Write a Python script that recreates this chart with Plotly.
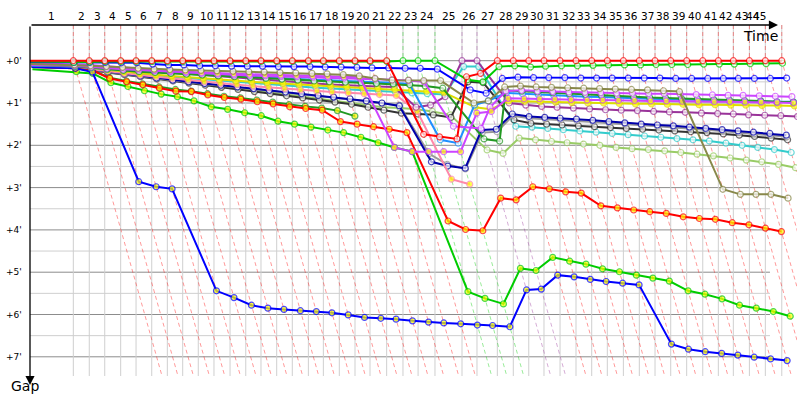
import plotly.graph_objects as go

# Leader lap completion times (minutes from start), index 0 = start
LAP_END = [0.0, 3.64, 4.98, 6.28, 7.62, 8.91, 10.23, 11.54, 12.83, 14.14, 15.46, 16.81, 18.13,
           19.41, 20.73, 22.04, 23.39, 24.65, 25.99, 27.31, 28.57, 29.97, 31.34, 32.61, 34.03,
           36.30, 37.56, 39.27, 40.61, 41.91, 43.19, 44.54, 45.88, 47.20, 48.51, 49.86, 51.20,
           52.52, 53.84, 55.18, 56.53, 57.84, 59.10, 60.45, 61.79, 63.17]
LAP_LABELS = [str(i) for i in range(1, 46)]
GAP_TICKS = [0, 1, 2, 3, 4, 5, 6, 7]
GAP_TICK_TEXT = ["+0'", "+1'", "+2'", "+3'", "+4'", "+5'", "+6'", "+7'"]

# gaps to leader (minutes), index 0 = start, then lap 1..N
RED_W = [0.0, 0.0, 0.0, 0.0, 0.0, 0.0, 0.0, 0.0, 0.0, 0.0, 0.0, 0.0, 0.0, 0.0, 0.0, 0.0, 0.0, 0.0,
         0.0, 0.0, 0.0, 0.0, 1.74, 1.8, 1.85, 0.38, 0.3, 0.0, 0.0, 0.0, 0.0, 0.0, 0.0, 0.0, 0.0,
         0.0, 0.0, 0.0, 0.0, 0.0, 0.0, 0.0, 0.0, 0.0, 0.0, 0.0]
GREEN_W = [0.02, 0.04, 0.03, 0.02, 0.02, 0.02, 0.02, 0.02, 0.02, 0.02, 0.02, 0.02, 0.02, 0.02,
           0.02, 0.02, 0.02, 0.02, 0.02, 0.02, 0.02, 0.02, 0.0, 0.0, 0.0, 0.45, 0.5, 0.14, 0.12,
           0.15, 0.13, 0.12, 0.12, 0.11, 0.1, 0.1, 0.1, 0.09, 0.09, 0.09, 0.08, 0.08, 0.08, 0.07,
           0.07, 0.06]
BLUE_W = [0.03, 0.04, 0.04, 0.04, 0.05, 0.05, 0.08, 0.1, 0.1, 0.12, 0.12, 0.13, 0.13, 0.13, 0.14,
          0.14, 0.14, 0.15, 0.15, 0.16, 0.17, 0.17, 0.18, 0.18, 0.2, 0.69, 0.77, 0.42, 0.39, 0.4,
          0.4, 0.4, 0.41, 0.41, 0.41, 0.41, 0.41, 0.41, 0.42, 0.42, 0.42, 0.42, 0.42, 0.42, 0.42,
          0.41]
OLIVE_W = [0.08, 0.1, 0.12, 0.14, 0.16, 0.18, 0.2, 0.21, 0.22, 0.23, 0.24, 0.25, 0.26, 0.27, 0.28,
           0.29, 0.3, 0.31, 0.33, 0.36, 0.42, 0.46, 0.46, 0.47, 0.47, 1.0, 0.95, 0.62, 0.6, 0.62,
           0.63, 0.64, 0.65, 0.66, 0.67, 0.68, 0.69, 0.71, 0.73, 3.04, 3.16, 3.16, 3.16, 3.25]
VIOLET_Y = [0.06, 0.08, 0.1, 0.13, 0.16, 0.19, 0.22, 0.24, 0.26, 0.28, 0.3, 0.31, 0.32, 0.33,
            0.34, 0.35, 0.36, 0.37, 0.38, 0.39, 2.05, 2.15, 2.15, 2.15, 2.15, 1.24, 1.2, 0.89,
            0.9, 0.9, 0.91, 0.92, 0.93, 0.93, 0.94, 0.94, 0.95, 0.95, 0.96, 0.96, 0.97, 0.97,
            0.98, 0.98, 0.99, 1.0]
VIOLET_W = [0.1, 0.12, 0.15, 0.18, 0.2, 0.22, 0.24, 0.26, 0.28, 0.3, 0.32, 0.34, 0.35, 0.36, 0.37,
            0.38, 0.39, 0.4, 0.41, 0.42, 0.44, 0.45, 0.47, 0.5, 1.55, 1.6, 1.1, 0.72, 0.7, 0.72,
            0.73, 0.74, 0.75, 0.76, 0.77, 0.77, 0.78, 0.78, 0.79, 0.8, 0.81, 0.82, 0.82, 0.83,
            0.84, 0.85]
DKGREEN_W = [0.1, 0.13, 0.16, 0.2, 0.23, 0.26, 0.28, 0.3, 0.32, 0.34, 0.36, 0.38, 0.4, 0.42, 0.44,
             0.46, 0.48, 0.5, 0.51, 0.52, 0.54, 0.55, 0.57, 0.6, 0.65, 1.85, 1.9, 0.7, 0.72, 0.74,
             0.76, 0.78, 0.8, 0.82, 0.84, 0.86, 0.87, 0.88, 0.89, 0.9, 0.92, 0.93, 0.94, 0.95,
             0.97, 0.98]
DODGER_W = [0.12, 0.14, 0.17, 0.2, 0.22, 0.24, 0.26, 0.28, 0.3, 0.32, 0.34, 0.36, 0.38, 0.4, 0.42,
            0.43, 0.45, 0.46, 0.48, 0.5, 0.51, 0.52, 0.55, 1.87, 1.95, 1.05, 0.95, 0.76, 0.78,
            0.8, 0.82, 0.83, 0.85, 0.86, 0.88, 0.89, 0.9, 0.91, 0.92, 0.93, 0.94, 0.95, 0.96,
            0.96, 0.97, 0.97]
YELLOW_Y = [0.1, 0.14, 0.18, 0.22, 0.26, 0.3, 0.33, 0.36, 0.39, 0.42, 0.45, 0.48, 0.5, 0.52, 0.54,
            0.56, 0.58, 0.6, 0.62, 0.64, 0.66, 0.68, 0.7, 0.72, 0.75, 1.1, 1.15, 0.95, 0.96, 0.97,
            0.98, 0.99, 1.0, 1.0, 1.01, 1.02, 1.02, 1.03, 1.03, 1.04, 1.04, 1.05, 1.05, 1.06,
            1.06, 1.07]
PURPLE_W = [0.08, 0.1, 0.13, 0.16, 0.19, 0.22, 0.25, 0.28, 0.31, 0.34, 0.37, 0.4, 0.43, 0.46,
            0.49, 0.52, 0.54, 0.56, 0.58, 0.6, 0.61, 0.62, 1.1, 1.05, 0.85, 0.0, 0.0, 1.0, 1.05,
            1.08, 1.1, 1.12, 1.14, 1.16, 1.17, 1.18, 1.2, 1.21, 1.22, 1.24, 1.25, 1.26, 1.28,
            1.29, 1.3, 1.32]
CYAN_W = [0.12, 0.15, 0.19, 0.23, 0.27, 0.31, 0.35, 0.38, 0.41, 0.44, 0.47, 0.5, 0.53, 0.56, 0.59,
          0.62, 0.64, 0.66, 0.68, 0.7, 0.72, 0.74, 0.76, 0.78, 0.8, 0.14, 0.14, 1.55, 1.57, 1.6,
          1.63, 1.66, 1.69, 1.72, 1.75, 1.78, 1.81, 1.84, 1.87, 1.9, 1.95, 2.0, 2.05, 2.1, 2.17]
PINK_Y = [0.12, 0.16, 0.2, 0.25, 0.3, 0.34, 0.38, 0.42, 0.46, 0.5, 0.54, 0.57, 0.6, 0.63, 0.66,
          0.69, 0.72, 0.74, 0.76, 0.78, 0.8, 0.82, 1.2, 2.8, 2.92]
NAVY_W = [0.12, 0.16, 0.21, 0.26, 0.31, 0.36, 0.41, 0.46, 0.5, 0.54, 0.58, 0.62, 0.66, 0.7, 0.74,
          0.78, 0.82, 0.86, 0.9, 0.95, 1.0, 1.07, 2.39, 2.49, 2.54, 1.64, 1.62, 1.26, 1.32, 1.34,
          1.36, 1.38, 1.41, 1.44, 1.47, 1.5, 1.52, 1.54, 1.57, 1.6, 1.63, 1.66, 1.69, 1.72, 1.76]
GREY_W = [0.13, 0.17, 0.22, 0.27, 0.32, 0.37, 0.42, 0.47, 0.51, 0.55, 0.59, 0.63, 0.67, 0.71, 0.75,
          0.79, 0.83, 0.87, 0.91, 0.96, 1.01, 1.05, 2.2, 2.45, 2.56, 1.7, 1.68, 1.3, 1.36, 1.38,
          1.4, 1.42, 1.45, 1.48, 1.5, 1.53, 1.55, 1.58, 1.6, 1.63, 1.66, 1.7, 1.73, 1.76, 1.8]
BLACK_W = [0.14, 0.18, 0.23, 0.28, 0.33, 0.38, 0.43, 0.48, 0.53, 0.58, 0.63, 0.68, 0.73, 0.78,
           0.83, 0.88, 0.93, 0.98, 1.03, 1.1, 1.17, 1.24, 1.26, 1.28, 1.34, 0.5, 0.52, 1.4, 1.48,
           1.5, 1.52, 1.54, 1.56, 1.58, 1.6, 1.62, 1.64, 1.66, 1.68, 1.7, 1.73, 1.76, 1.79, 1.83,
           1.87]
LIME_W = [0.12, 0.16, 0.2, 0.25, 0.3, 0.35, 0.4, 0.45, 0.5, 0.55, 0.6, 0.65, 0.7, 0.75, 0.8, 0.85,
          0.9, 0.95, 1.0, 1.05, 1.1, 1.12, 1.15, 1.2, 1.28, 2.11, 2.19, 1.83, 1.87, 1.91, 1.94,
          1.97, 2.0, 2.05, 2.08, 2.1, 2.13, 2.17, 2.21, 2.25, 2.3, 2.35, 2.39, 2.45, 2.53]
DKGREEN_Y = [0.15, 0.18, 0.22, 0.4, 0.48, 0.55, 0.62, 0.68, 0.72, 0.78, 0.84, 0.88, 0.93, 0.98,
             1.04, 1.08, 1.12, 1.18, 1.31]
RED_Y = [0.15, 0.18, 0.22, 0.42, 0.5, 0.57, 0.65, 0.72, 0.73, 0.81, 0.87, 0.91, 0.97, 1.02, 1.09,
         1.13, 1.17, 1.44, 1.5, 1.56, 1.62, 1.7, 3.79, 3.99, 4.02, 3.25, 3.29, 2.98, 3.03, 3.1,
         3.13, 3.43, 3.48, 3.53, 3.57, 3.61, 3.69, 3.73, 3.75, 3.83, 3.88, 3.96, 4.04]
GREEN_Y = [0.2, 0.26, 0.3, 0.52, 0.61, 0.71, 0.79, 0.85, 0.95, 1.09, 1.15, 1.23, 1.3, 1.43, 1.5,
           1.57, 1.64, 1.7, 1.81, 1.94, 2.05, 2.15, 5.46, 5.62, 5.75, 4.91, 4.96, 4.65, 4.74,
           4.81, 4.92, 4.99, 5.07, 5.14, 5.21, 5.44, 5.52, 5.63, 5.78, 5.85, 5.93, 6.04]
BLUE_Y = [0.15, 0.18, 0.27, 2.86, 2.98, 3.03, 5.44, 5.6, 5.78, 5.85, 5.88, 5.91, 5.93, 5.96, 6.01,
          6.07, 6.09, 6.11, 6.15, 6.18, 6.2, 6.22, 6.25, 6.26, 6.29, 5.42, 5.4, 5.07, 5.11, 5.17,
          5.22, 5.26, 5.3, 6.7, 6.82, 6.88, 6.92, 6.96, 7.01, 7.05, 7.09]

WHITE, YELLOW = "#ffffff", "#ffff00"
# drawn bottom -> top
CARS = [
    ("lime", "#99cc66", WHITE, LIME_W),
    ("cyan", "#33cccc", WHITE, CYAN_W),
    ("black", "#333333", WHITE, BLACK_W),
    ("grey", "#999999", WHITE, GREY_W),
    ("navy", "#0000aa", WHITE, NAVY_W),
    ("pink", "#ff88aa", YELLOW, PINK_Y),
    ("dkgreen_y", "#229922", YELLOW, DKGREEN_Y),
    ("green_y", "#00cc00", YELLOW, GREEN_Y),
    ("red_y", "#ff0000", YELLOW, RED_Y),
    ("blue_y", "#0000ff", YELLOW, BLUE_Y),
    ("purple", "#993399", WHITE, PURPLE_W),
    ("yellow", "#dddd00", YELLOW, YELLOW_Y),
    ("dodger", "#1e90ff", WHITE, DODGER_W),
    ("dkgreen", "#229922", WHITE, DKGREEN_W),
    ("violet_w", "#cc44ff", WHITE, VIOLET_W),
    ("violet_y", "#cc44ff", YELLOW, VIOLET_Y),
    ("olive", "#88884a", WHITE, OLIVE_W),
    ("blue", "#0000ff", WHITE, BLUE_W),
    ("green", "#00cc00", WHITE, GREEN_W),
    ("red", "#ff0000", WHITE, RED_W),
]

Y_TOP, Y_BOT = -0.844, 7.454
X_MAX = 64.45
HGRID_END = 62.18
LABEL_CAP = 61.26   # last lap labels are squeezed before the arrow head
LABEL_MIN_SEP = 0.5

fig = go.Figure()


def rgba(hexc, a):
    h = hexc.lstrip("#")
    return "rgba(%d,%d,%d,%.2f)" % (int(h[0:2], 16), int(h[2:4], 16), int(h[4:6], 16), a)


# leader of each lap -> colour of the dashed "lap line"
priority = ["red", "green", "purple", "blue"]
by_name = {c[0]: c for c in CARS}
lap_color = {}
for k in range(1, len(LAP_END)):
    col = "#ff0000"
    for nm in priority:
        g = by_name[nm][3]
        if k < len(g) and g[k] == 0.0:
            col = by_name[nm][1]
            break
    lap_color[k] = col

shapes = []
# horizontal grid
for v in [i * 0.5 for i in range(0, 15)]:
    major = float(v).is_integer()
    shapes.append(dict(type="line", xref="x", yref="y", x0=0, x1=HGRID_END, y0=v, y1=v,
                       line=dict(color="#8c8c8c" if major else "#cfcfcf", width=1), layer="below"))
# vertical grid
for t in LAP_END[1:]:
    shapes.append(dict(type="line", xref="x", yref="y", x0=t, x1=t, y0=Y_TOP, y1=Y_BOT,
                       line=dict(color="#cfcfcf", width=1), layer="below"))
fig.update_layout(shapes=shapes)

# dashed lap lines (vertical above +0, then slanted: x = t + gap)
groups = {}
for k in range(1, len(LAP_END)):
    t = LAP_END[k]
    xs, ys = groups.setdefault(lap_color[k], ([], []))
    xs += [t, t, t + 8.5, None]
    ys += [Y_TOP, 0, 8.5, None]
for col, (xs, ys) in groups.items():
    fig.add_trace(go.Scatter(x=xs, y=ys, mode="lines", hoverinfo="skip",
                             line=dict(color=rgba(col, 0.4), width=1, dash="4px,3px")))

# cars
for name, col, fill, gaps in CARS:
    xs = [LAP_END[k] + g for k, g in enumerate(gaps)]
    sizes = [0] + [6] * (len(gaps) - 1)
    fig.add_trace(go.Scatter(x=xs, y=gaps, mode="lines+markers", name=name,
                             line=dict(color=col, width=2),
                             marker=dict(size=sizes, color=fill, line=dict(color=col, width=1.2))))

ann = []
# lap labels on top (centred in each lap interval, squeezed at the right end)
label_x = [(LAP_END[i] + LAP_END[i + 1]) / 2 for i in range(len(LAP_LABELS))]
label_x[-1] = min(label_x[-1], LABEL_CAP)
for i in range(len(label_x) - 2, -1, -1):
    label_x[i] = min(label_x[i], label_x[i + 1] - LABEL_MIN_SEP)
for lx, lab in zip(label_x, LAP_LABELS):
    ann.append(dict(x=lx, y=1, xref="x", yref="paper", text=lab, showarrow=False,
                    xanchor="center", yanchor="middle", yshift=9, font=dict(size=10.5, color="#000")))
for v, tx in zip(GAP_TICKS, GAP_TICK_TEXT):
    ann.append(dict(x=0, y=v, xref="paper", yref="y", text=tx, showarrow=False,
                    xanchor="right", yanchor="middle", xshift=-6, font=dict(size=9, color="#000")))
# axes with arrows
ann.append(dict(x=(778 - 30) / 767, y=1, xref="paper", yref="paper", ax=-(778 - 30), ay=0,
                axref="pixel", ayref="pixel", text="", showarrow=True, arrowhead=2,
                arrowsize=1.4, arrowwidth=1.3, arrowcolor="#000"))
ann.append(dict(x=0, y=-9 / 351, xref="paper", yref="paper", ax=0, ay=-360,
                text="", showarrow=True, arrowhead=2, arrowsize=1.4, arrowwidth=1.3,
                arrowcolor="#000"))
ann.append(dict(x=(760 - 30) / 767, y=(376 - 36) / 351, xref="paper", yref="paper", text="Time",
                showarrow=False, xanchor="center", yanchor="middle", font=dict(size=14, color="#000")))
ann.append(dict(x=(25 - 30) / 767, y=(376 - 386) / 351, xref="paper", yref="paper", text="Gap",
                showarrow=False, xanchor="center", yanchor="middle", font=dict(size=14, color="#000")))

fig.update_layout(
    width=800, height=400, autosize=False,
    margin=dict(l=30, r=3, t=25, b=24),
    paper_bgcolor="white", plot_bgcolor="white",
    showlegend=False,
    font=dict(family="DejaVu Sans", color="#000"),
    xaxis=dict(range=[0, X_MAX], visible=False, showgrid=False, zeroline=False, fixedrange=True),
    yaxis=dict(range=[Y_BOT, Y_TOP], visible=False, showgrid=False, zeroline=False, fixedrange=True),
    annotations=ann,
)

fig.write_html("out.html", config={"displayModeBar": False},
               post_script="document.body.style.margin='0px';document.body.style.overflow='hidden';")
